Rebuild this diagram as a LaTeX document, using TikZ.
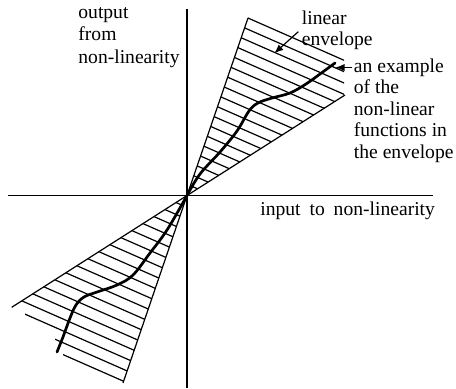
\documentclass[tikz,border=0pt]{standalone}
\usepackage{fontspec}
\setmainfont{Liberation Serif}
\usetikzlibrary{arrows.meta}
\begin{document}
\begin{tikzpicture}[x=0.5pt,y=-0.5pt,
  axis/.style={line width=0.75pt},
  hatch/.style={line width=0.6pt},
  fn/.style={line width=1.35pt, line join=round, line cap=round},
  lbl/.style={anchor=base west, inner sep=0pt, font=\fontsize{9.8}{11}\selectfont},
  pointer/.style={line width=0.6pt, -{Latex[length=4.5pt,width=3.6pt]}}]
\useasboundingbox (0,0) rectangle (456,388);
\coordinate (O) at (187,195.5);
\coordinate (A) at (248,18);
\coordinate (B) at (345,95);
\coordinate (D) at (11.7,307.3);
\coordinate (E) at (123,383);
\coordinate (yTop) at (187,9);
\coordinate (yBot) at (187,388);
\coordinate (xL) at (8,195.5);
\coordinate (xR) at (433,195.5);
% axes
\draw[axis] (yTop) -- (yBot);
\draw[axis] (xL) -- (xR);
% envelope edges
\draw[hatch] (A) -- (O) -- (B);
\draw[hatch] (D) -- (O) -- (E);
% upper hatching
\begin{scope}
\clip (O) -- (248.4,16.8) -- (344,50) -- (344,95.6) -- cycle;
\foreach \k in {1,...,18}{
  \pgfmathsetmacro\c{113.2-11.35*\k}
  \draw[hatch] (150,\c+66) -- (360,\c+158.4);
}
\end{scope}
% lower hatching
\begin{scope}
\clip (O) -- (D) -- (25,312) -- (25,318) -- (55,333) -- (55,345) -- (63,350) -- (63,400) -- (117.2,400) -- cycle;
\foreach \k in {1,...,18}{
  \pgfmathsetmacro\c{113.2+11.87*\k}
  \draw[hatch] (0,\c) -- (200,\c+88);
}
\end{scope}
% example non-linear functions
\draw[fn] plot[smooth, tension=0.6] coordinates {(187,195.5) (200,174) (220,152) (237,131) (249,111) (258,103) (272,98) (290,93) (306,84) (320,74) (335,63)};
\draw[fn] plot[smooth, tension=0.6] coordinates {(187,195.5) (167,230) (150,253) (133,275) (117,285) (97,292) (84,297) (76,305) (70,318) (63,337) (57,352)};
% labels
\node[lbl] (out1) at (78,18) {output};
\node[lbl] (out2) at (78,40.5) {from};
\node[lbl] (out3) at (78,63) {non-linearity};
\node[lbl] (lin1) at (301.5,24) {linear};
\node[lbl] (lin2) at (301.5,45.5) {envelope};
\node[lbl] (ex1) at (353.5,72) {an example};
\node[lbl] (ex2) at (353.5,93.5) {of the};
\node[lbl] (ex3) at (353.5,115) {non-linear};
\node[lbl] (ex4) at (353.5,136.5) {functions in};
\node[lbl] (ex5) at (353.5,158) {the envelope};
\node[lbl] (inp) at (260,215.5) {input\hspace{2pt} to\hspace{2pt} non-linearity};
% pointers
\coordinate (linTail) at (298.3,31.7);
\coordinate (linTip) at (274.3,53.3);
\draw[pointer] (linTail) -- (linTip);
\coordinate (exTail) at (352,67.5);
\coordinate (exTip) at (335.5,67.5);
\draw[pointer] (exTail) -- (exTip);
\end{tikzpicture}
\end{document}
